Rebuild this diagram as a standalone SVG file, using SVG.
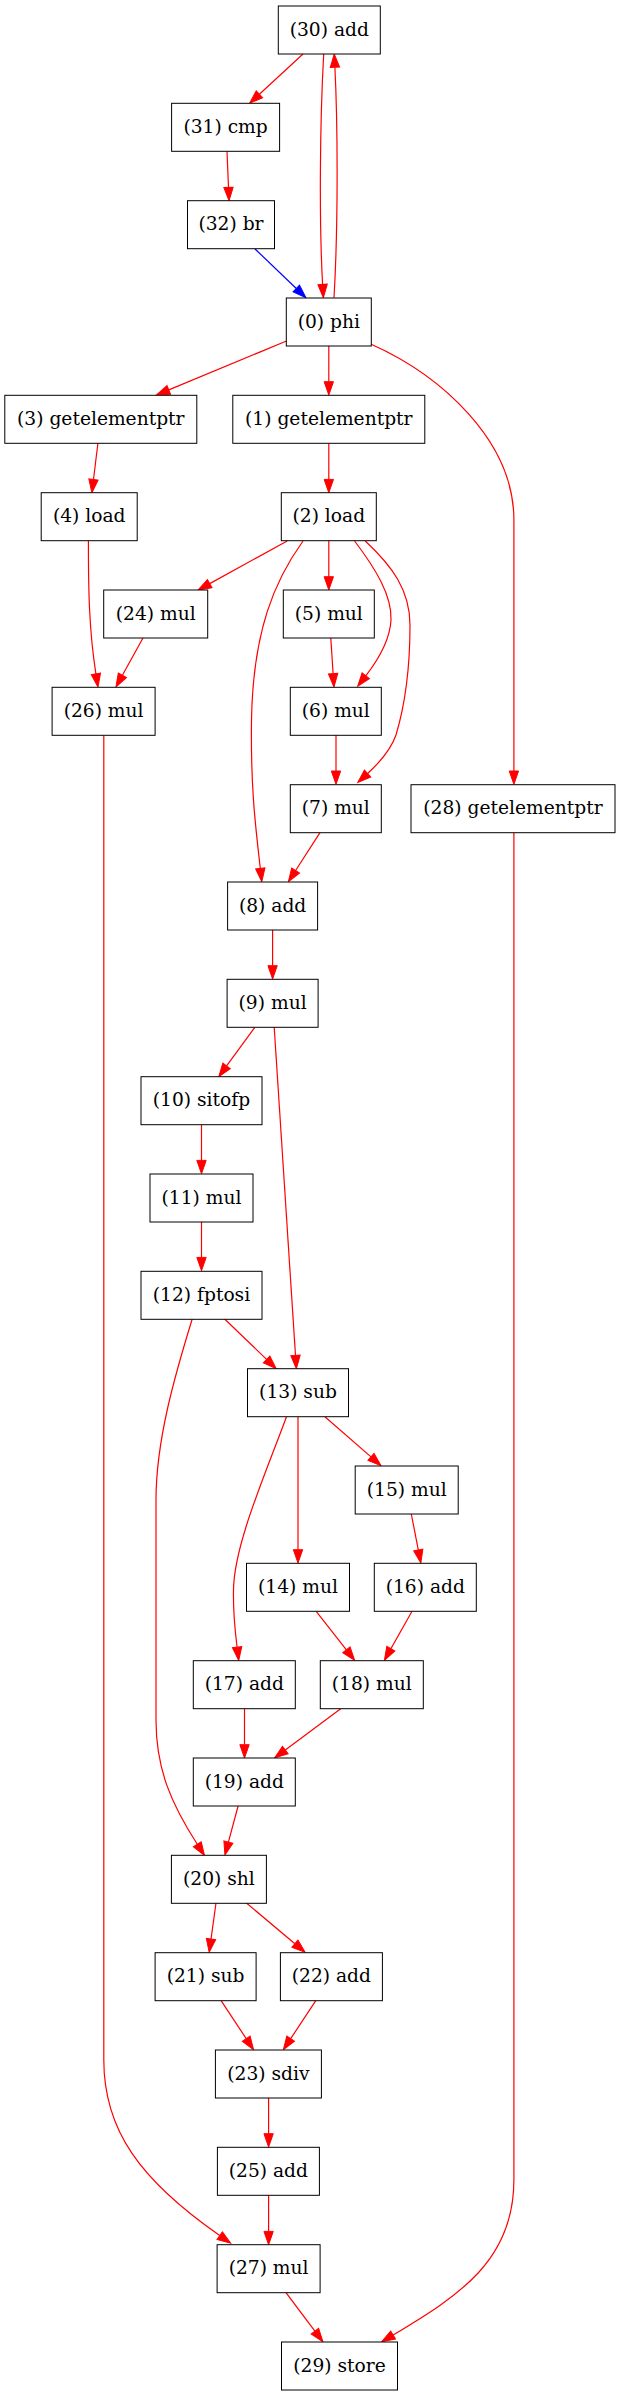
<svg xmlns="http://www.w3.org/2000/svg" width="618" height="2396" viewBox="0 0 618 2396">
<defs>
<style>
.node rect{fill:#fff;stroke:#000;stroke-width:1}
.node text{font-family:"DejaVu Serif","Liberation Serif",serif;font-size:18.67px;text-anchor:middle;fill:#000}
.e{fill:none;stroke:#f00;stroke-width:1.2;marker-end:url(#ar)}
.b{fill:none;stroke:#00f;stroke-width:1.2;marker-end:url(#ab)}
</style>
<marker id="ar" markerUnits="userSpaceOnUse" markerWidth="15" markerHeight="11" refX="0" refY="5" orient="auto" overflow="visible"><path d="M0,0.33 L13.33,5 L0,9.67z" fill="#f00" stroke="#f00" stroke-width="1"/></marker>
<marker id="ab" markerUnits="userSpaceOnUse" markerWidth="15" markerHeight="11" refX="0" refY="5" orient="auto" overflow="visible"><path d="M0,0.33 L13.33,5 L0,9.67z" fill="#00f" stroke="#00f" stroke-width="1"/></marker>
</defs>
<rect x="0" y="0" width="618" height="2396" fill="#fff"/>
<g id="edges">
<path class="e" d="M303,54 L259.4,94.3"/>
<path class="e" d="M323.7,54 C320,120 319,220 322.6,284.4"/>
<path class="e" d="M334,297.7 C338,230 338,130 334.9,67.3"/>
<path class="e" d="M227,151.3 L228.5,187.4"/>
<path class="b" d="M254.8,248.7 L296.3,288.5"/>
<path class="e" d="M286.5,341 L168.8,389.9"/>
<path class="e" d="M328.8,346 L328.8,381.7"/>
<path class="e" d="M371.2,344.3 C440,375 513.9,440 513.9,520 L513.9,771"/>
<path class="e" d="M328.8,443.3 L328.8,479.4"/>
<path class="e" d="M97.9,443.3 L93.5,479.5"/>
<path class="e" d="M88.4,540.7 C88.4,590 89,630 95.9,673.8"/>
<path class="e" d="M143,638 L122.4,675.3"/>
<path class="e" d="M287.2,541 L209.7,583.6"/>
<path class="e" d="M328.8,540.7 L328.8,576.7"/>
<path class="e" d="M303,541 C275,580 253,630 251.5,720 C250.5,790 256,830 260.3,868.4"/>
<path class="e" d="M354.6,541 C375,568 392,595 391,620 C390,640 378,660 365.8,675.8"/>
<path class="e" d="M365.3,541 C392,566 410,590 410,625 C410,680 402,715 396,735 C390,752 378,764 367.6,773.5"/>
<path class="e" d="M330.8,638 L333.1,673.7"/>
<path class="e" d="M336,735 L336,771"/>
<path class="e" d="M320,832.7 L295.6,870.5"/>
<path class="e" d="M103.8,735.3 L103.8,2060 C103.8,2130 140,2180 219.7,2235.6"/>
<path class="e" d="M513.9,832.7 L513.9,2180 C513.9,2260 460,2295 393.1,2335"/>
<path class="e" d="M272.6,930 L272.6,965.7"/>
<path class="e" d="M254.8,1027.3 L226.6,1065.9"/>
<path class="e" d="M274.2,1027.3 L295.5,1355.4"/>
<path class="e" d="M201.5,1124.7 L201.5,1160.4"/>
<path class="e" d="M201.5,1222 L201.5,1257.4"/>
<path class="e" d="M224.6,1319 L266.6,1359.4"/>
<path class="e" d="M192.2,1319 C175,1375 156,1440 156,1500 L156,1720 C156,1770 172,1805 197.3,1844.3"/>
<path class="e" d="M298,1416.7 L298,1549.7"/>
<path class="e" d="M324.9,1416.7 L371,1456.9"/>
<path class="e" d="M286.5,1416.7 C265,1475 234,1545 233.5,1590 C233,1615 235,1630 237.1,1647.2"/>
<path class="e" d="M411.3,1514 L418.3,1549.9"/>
<path class="e" d="M316.2,1611.3 L346.4,1649.8"/>
<path class="e" d="M412,1611.3 L390.9,1648.7"/>
<path class="e" d="M244.5,1708.7 L244.5,1744.7"/>
<path class="e" d="M340.7,1708.7 L285.3,1750"/>
<path class="e" d="M238.1,1806 L228.4,1842.1"/>
<path class="e" d="M216,1903 L211,1939.1"/>
<path class="e" d="M246.4,1903 L294.9,1943.7"/>
<path class="e" d="M221.1,2000.7 L246.2,2038.6"/>
<path class="e" d="M315.8,2000.7 L290.7,2038.6"/>
<path class="e" d="M268.6,2098 L268.6,2133.7"/>
<path class="e" d="M268.6,2195 L268.6,2231.4"/>
<path class="e" d="M286,2292.7 L314.9,2331.1"/>
</g>
<g id="n30" class="node"><rect x="278.3" y="6" width="102" height="48"/><text x="329.3" y="35.5">(30) add</text></g>
<g id="n31" class="node"><rect x="171.6" y="103.3" width="108" height="48"/><text x="225.6" y="132.8">(31) cmp</text></g>
<g id="n32" class="node"><rect x="187.5" y="200.7" width="87" height="48"/><text x="231" y="230.2">(32) br</text></g>
<g id="n0" class="node"><rect x="286.3" y="298" width="85" height="48"/><text x="328.8" y="327.5">(0) phi</text></g>
<g id="n3" class="node"><rect x="4.8" y="395.3" width="192" height="48"/><text x="100.8" y="424.8">(3) getelementptr</text></g>
<g id="n1" class="node"><rect x="232.8" y="395.3" width="192" height="48"/><text x="328.8" y="424.8">(1) getelementptr</text></g>
<g id="n4" class="node"><rect x="41.2" y="492.7" width="96" height="48"/><text x="89.2" y="522.2">(4) load</text></g>
<g id="n2" class="node"><rect x="281.3" y="492.7" width="95" height="48"/><text x="328.8" y="522.2">(2) load</text></g>
<g id="n24" class="node"><rect x="103.7" y="590" width="104" height="48"/><text x="155.7" y="619.5">(24) mul</text></g>
<g id="n5" class="node"><rect x="283.3" y="590" width="91" height="48"/><text x="328.8" y="619.5">(5) mul</text></g>
<g id="n26" class="node"><rect x="52.1" y="687.3" width="103" height="48"/><text x="103.6" y="716.8">(26) mul</text></g>
<g id="n6" class="node"><rect x="290.3" y="687.3" width="91" height="48"/><text x="335.8" y="716.8">(6) mul</text></g>
<g id="n7" class="node"><rect x="290.3" y="784.7" width="91" height="48"/><text x="335.8" y="814.2">(7) mul</text></g>
<g id="n28" class="node"><rect x="411" y="784.7" width="204" height="48"/><text x="513" y="814.2">(28) getelementptr</text></g>
<g id="n8" class="node"><rect x="227.6" y="882" width="90" height="48"/><text x="272.6" y="911.5">(8) add</text></g>
<g id="n9" class="node"><rect x="227.1" y="979.3" width="91" height="48"/><text x="272.6" y="1008.8">(9) mul</text></g>
<g id="n10" class="node"><rect x="141" y="1076.7" width="121" height="48"/><text x="201.5" y="1106.2">(10) sitofp</text></g>
<g id="n11" class="node"><rect x="150" y="1174" width="103" height="48"/><text x="201.5" y="1203.5">(11) mul</text></g>
<g id="n12" class="node"><rect x="141" y="1271.3" width="121" height="48"/><text x="201.5" y="1300.8">(12) fptosi</text></g>
<g id="n13" class="node"><rect x="247.5" y="1368.7" width="101" height="48"/><text x="298" y="1398.2">(13) sub</text></g>
<g id="n15" class="node"><rect x="355.2" y="1466" width="103" height="48"/><text x="406.7" y="1495.5">(15) mul</text></g>
<g id="n14" class="node"><rect x="246.5" y="1563.3" width="103" height="48"/><text x="298" y="1592.8">(14) mul</text></g>
<g id="n16" class="node"><rect x="374.3" y="1563.3" width="102" height="48"/><text x="425.3" y="1592.8">(16) add</text></g>
<g id="n17" class="node"><rect x="193.3" y="1660.7" width="102" height="48"/><text x="244.3" y="1690.2">(17) add</text></g>
<g id="n18" class="node"><rect x="320.3" y="1660.7" width="103" height="48"/><text x="371.8" y="1690.2">(18) mul</text></g>
<g id="n19" class="node"><rect x="193.3" y="1758" width="102" height="48"/><text x="244.3" y="1787.5">(19) add</text></g>
<g id="n20" class="node"><rect x="171.4" y="1855.3" width="95" height="48"/><text x="218.9" y="1884.8">(20) shl</text></g>
<g id="n21" class="node"><rect x="155.1" y="1952.7" width="101" height="48"/><text x="205.6" y="1982.2">(21) sub</text></g>
<g id="n22" class="node"><rect x="280.4" y="1952.7" width="102" height="48"/><text x="331.4" y="1982.2">(22) add</text></g>
<g id="n23" class="node"><rect x="215.4" y="2050" width="106" height="48"/><text x="268.4" y="2079.5">(23) sdiv</text></g>
<g id="n25" class="node"><rect x="217.4" y="2147.3" width="102" height="48"/><text x="268.4" y="2176.8">(25) add</text></g>
<g id="n27" class="node"><rect x="217.1" y="2244.7" width="103" height="48"/><text x="268.6" y="2274.2">(27) mul</text></g>
<g id="n29" class="node"><rect x="281.5" y="2342" width="116" height="48"/><text x="339.5" y="2371.5">(29) store</text></g>
</svg>
